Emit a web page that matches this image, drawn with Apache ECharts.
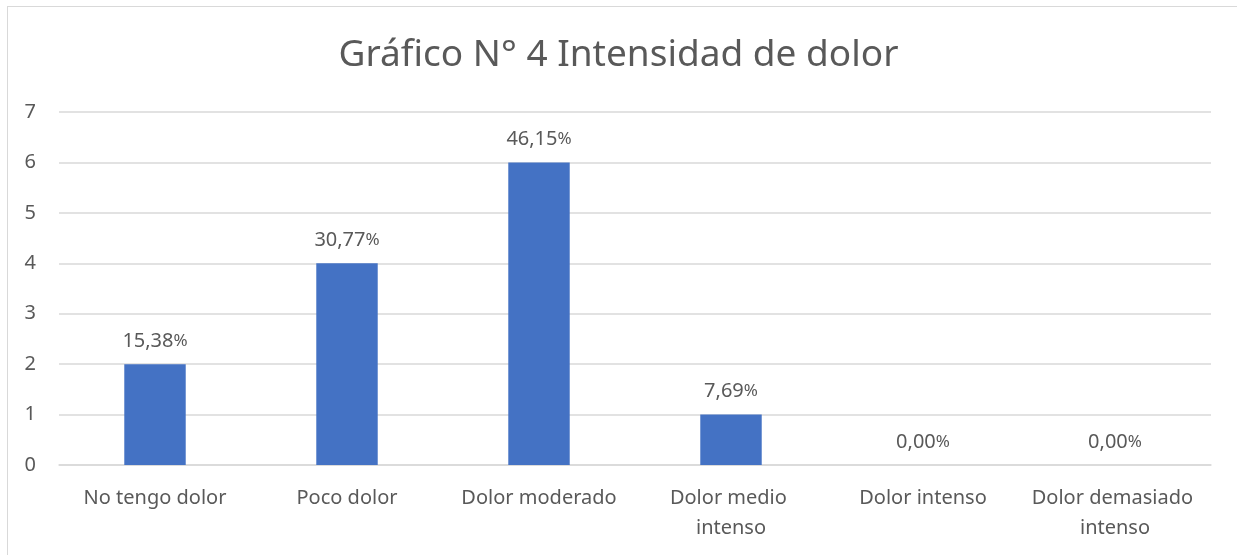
<!DOCTYPE html>
<html>
<head>
<meta charset="utf-8">
<title>Intensidad de dolor</title>
<script src="https://cdn.jsdelivr.net/npm/echarts@6/dist/echarts.min.js"></script>
<style>
    html, body { margin: 0; padding: 0; background: #fff; overflow: hidden; }
    #chart { position: absolute; left: 0; top: 0; width: 1237px; height: 555px; }
    #frame {
        position: absolute; left: 7px; top: 6px; width: 1300px; height: 600px;
        border-left: 1px solid #d9d9d9; border-top: 1px solid #d9d9d9;
        pointer-events: none;
    }
</style>
</head>
<body>
<div id="chart"></div>
<div id="frame"></div>
<script>
// datos del gráfico
const categories = ['No tengo dolor', 'Poco dolor', 'Dolor moderado', 'Dolor medio intenso', 'Dolor intenso', 'Dolor demasiado intenso']
const counts = [2, 4, 6, 1, 0, 0]
const percents = ['15,38', '30,77', '46,15', '7,69', '0,00', '0,00']
const yTicks = [0, 1, 2, 3, 4, 5, 6, 7]

const textColor = '#595959'
const fontFamily = '"Noto Sans", "Open Sans", sans-serif'

const chart = echarts.init(document.getElementById('chart'))

chart.setOption({
    animation: false,
    title: {
        text: 'Gráfico N° 4 Intensidad de dolor',
        left: 'center',
        top: 32,
        textStyle: { color: textColor, fontSize: 37, fontWeight: 'normal', fontFamily }
    },
    grid: { left: 59, right: 26, top: 112, bottom: 90 },
    xAxis: {
        type: 'category',
        data: categories,
        axisLine: { lineStyle: { color: '#d9d9d9', width: 1.5 } },
        axisTick: { show: false },
        axisLabel: {
            color: textColor,
            fontSize: 20,
            fontFamily,
            margin: 18,
            lineHeight: 30,
            width: 175,
            overflow: 'break',
            interval: 0
        }
    },
    yAxis: {
        type: 'value',
        min: yTicks[0],
        max: yTicks[yTicks.length - 1],
        interval: 1,
        axisLine: { show: false },
        axisTick: { show: false },
        axisLabel: { color: textColor, fontSize: 20, fontFamily, margin: 23 },
        splitLine: { lineStyle: { color: '#d9d9d9', width: 1.5 } }
    },
    series: [{
        type: 'bar',
        data: counts,
        barWidth: '32%',
        itemStyle: { color: '#4472c4' },
        label: {
            show: true,
            position: 'top',
            distance: 13,
            formatter: p => '{n|' + percents[p.dataIndex] + '}{p|%}',
            rich: {
                n: { color: textColor, fontSize: 20, fontFamily },
                p: { color: textColor, fontSize: 17, fontFamily }
            }
        }
    }]
})
</script>
</body>
</html>
